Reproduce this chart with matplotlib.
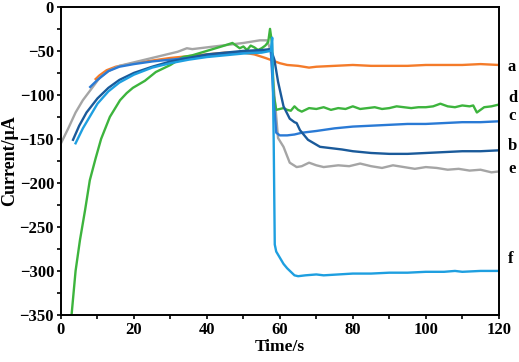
import matplotlib
matplotlib.use("Agg")
import matplotlib.pyplot as plt

plt.rcParams['font.family'] = ['Liberation Serif', 'DejaVu Serif']
plt.rcParams['font.weight'] = 'bold'

# a (orange)
t_a = [9.5, 10.5, 12.5, 15, 20, 25, 30, 35, 40, 45, 50, 53, 56, 58, 60, 62, 65, 68, 70, 75, 80, 85, 90, 95, 100, 105, 110, 115, 120]
y_a = [-82, -78, -72, -68, -64, -61, -58, -56, -54, -52, -52, -54, -58, -61, -64, -66, -67, -69, -68, -67, -66, -67, -67, -67, -66, -66, -66, -65, -66]

# b (dark blue)
t_b = [3.3, 5, 7, 10, 13, 16, 20, 25, 30, 35, 40, 45, 50, 55, 57.5, 58.5, 59.5, 61, 62.7, 64, 64.6, 65.5, 67.7, 71, 77, 80, 85, 90, 95, 100, 105, 110, 115, 120]
y_b = [-151, -135, -120, -104, -92, -83, -75, -68, -62, -58, -54, -52, -50, -49, -48, -60, -85, -113, -127, -131, -132, -140, -151, -159, -162, -164, -166, -167, -167, -166, -165, -164, -164, -163]

# c (medium blue)
t_c = [8, 10, 13, 16, 20, 25, 30, 35, 40, 45, 50, 55, 57.5, 58.2, 59, 60, 62, 64, 66, 70, 75, 80, 85, 90, 95, 100, 105, 110, 115, 120]
y_c = [-91, -83, -73, -68, -65, -62, -60, -58, -56, -54, -52, -51, -48, -100, -143, -146, -146, -145, -143, -141, -138, -136, -135, -134, -133, -133, -132, -131, -131, -130]

# d (green)
t_d = [2.9, 4, 5.2, 6.6, 7.9, 9.5, 11, 13.4, 16.2, 18, 19.7, 23, 26, 30, 33.4, 36, 40.8, 44, 47, 48, 49, 50, 51, 52, 53, 54, 55, 56, 56.8, 57.3, 57.8, 58.3,
       59, 60, 61, 62, 63, 64, 65, 66, 67, 68, 70, 72, 74, 76, 78, 80, 82, 84, 86, 88, 90, 92, 94, 96, 98, 100, 102, 104, 106, 108, 110, 112, 113, 114, 115, 116, 118, 120]
y_d = [-350, -300, -265, -231, -197, -172, -150, -125, -106, -98, -92, -84, -74, -66, -57, -55, -49, -45, -41, -44, -47, -45, -49, -44, -46, -49, -47, -44, -40, -25, -40, -100,
       -117, -116, -115, -117, -118, -113, -117, -119, -117, -115, -116, -114, -117, -115, -116, -113, -116, -115, -114, -116, -115, -113, -114, -115, -114, -114, -113, -110, -113, -114, -112, -113, -112, -120, -117, -114, -113, -111]

# e (gray)
t_e = [0, 2, 4, 6, 8, 10.7, 13, 16, 20, 24, 28, 32, 34.5, 36, 38, 42, 46, 50, 54.5, 56.5, 57.5, 58.5, 59.5, 61, 62.7, 64.6, 66, 68, 70, 72, 76, 79, 82, 85, 88, 91, 94, 97, 100, 103, 106, 109, 112, 115, 118, 120]
y_e = [-155, -138, -120, -106, -95, -80, -73, -67, -63, -59, -55, -51, -47, -48, -47, -45, -43, -41, -38, -38, -50, -100, -149, -159, -177, -182, -181, -177, -180, -182, -180, -181, -178, -181, -183, -180, -182, -184, -182, -183, -185, -184, -186, -185, -188, -187]

# f (light blue)
t_f = [4, 6, 8, 10, 13, 16, 20, 25, 30, 35, 40, 45, 50, 55, 57.5, 57.9, 58.3, 58.6, 59, 60, 61, 62, 63, 64, 65, 67, 70, 72, 76, 80, 85, 90, 95, 100, 105, 108, 110, 115, 120]
y_f = [-155, -138, -124, -110, -96, -86, -77, -69, -64, -60, -57, -55, -53, -52, -50, -35, -150, -270, -278, -285, -292, -297, -301, -305, -306, -305, -304, -305, -304, -303, -303, -302, -302, -301, -301, -300, -301, -300, -300]

curve_labels = ['a', 'e', 'd', 'c', 'b', 'f']
label_y = [-68, -184, -104, -124, -158, -286]

series = [
    (t_a, y_a, '#F47B2A'),
    (t_e, y_e, '#A5A5A5'),
    (t_d, y_d, '#3DB43D'),
    (t_c, y_c, '#2A7AD5'),
    (t_b, y_b, '#1A5A9A'),
    (t_f, y_f, '#1E9FE0'),
]

fig = plt.figure(figsize=(5.19, 3.62), dpi=100)
ax = fig.add_axes([0.1175, 0.13, 0.8435, 0.851])
for (t, y, col), lab, ly in zip(series, curve_labels, label_y):
    ax.plot(t, y, color=col, lw=1.7, solid_joinstyle='round')
    ax.text(122.5, ly, lab, fontsize=12, fontweight='bold', va='center', ha='left', clip_on=False)

ax.set_xlim(0, 120)
ax.set_ylim(-350, 0)
ax.set_xticks(range(0, 121, 20))
ax.set_xticks(range(0, 121, 10), minor=True)
ax.set_yticks(range(-350, 1, 50))
ax.set_yticks(range(-350, 1, 25), minor=True)
ax.tick_params(which='both', direction='out', length=3, width=1.2, labelsize=12, pad=2)
for sp in ax.spines.values():
    sp.set_linewidth(1.4)
for lbl in ax.get_xticklabels() + ax.get_yticklabels():
    lbl.set_fontweight('bold')
ax.set_xlabel('Time/s', fontsize=12.5, fontweight='bold', labelpad=1)
ax.set_ylabel('Current/μA', fontsize=13, fontweight='bold', labelpad=1)

fig.savefig('out.png', dpi=100)
